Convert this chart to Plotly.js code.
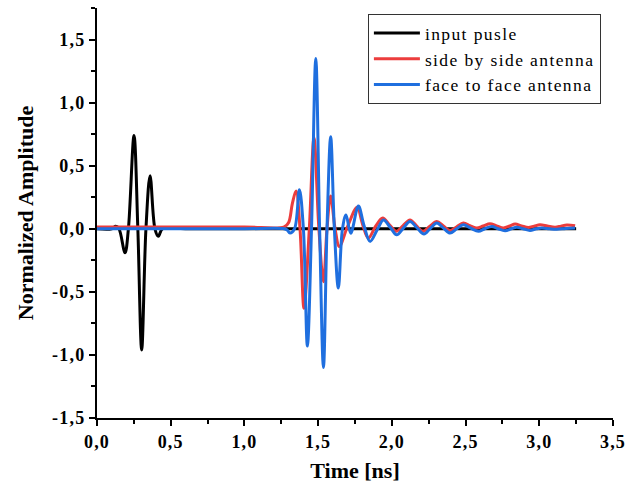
<!DOCTYPE html>
<html>
<head>
<meta charset="utf-8">
<script src="https://cdn.plot.ly/plotly-3.0.1.min.js"></script>
<style>
html,body{margin:0;padding:0;background:#fff;}
#chart{width:628px;height:486px;}
.legendtext{letter-spacing:1.4px;}
.xtick text,.ytick text{letter-spacing:1.2px;}
</style>
</head>
<body>
<div id="chart"></div>
<script>
// Input pulse
const tInput = [0, 0.1, 0.127, 0.149, 0.19, 0.213, 0.251, 0.277, 0.303, 0.332, 0.36, 0.393, 0.416, 0.445, 0.6, 1.5, 3.25];
const vInput = [0, 0, 0.02, 0, -0.19, 0, 0.74, 0, -0.96, 0, 0.42, 0, -0.06, 0, 0, 0, 0];

// Side by side antenna
const tSide = [0, 0.5, 1.0, 1.27, 1.30, 1.325, 1.35, 1.377, 1.404, 1.44, 1.472, 1.505, 1.536, 1.56, 1.585, 1.615, 1.644, 1.70, 1.765, 1.80, 1.84, 1.89, 1.938, 1.985, 2.029, 2.076, 2.123, 2.166, 2.21, 2.258, 2.305, 2.35, 2.395, 2.44, 2.485, 2.53, 2.576, 2.62, 2.666, 2.71, 2.757, 2.80, 2.836, 2.88, 2.926, 2.965, 3.005, 3.055, 3.107, 3.147, 3.187, 3.243];
const vSide = [0.015, 0.015, 0.015, 0.015, 0.05, 0.2, 0.30, 0, -0.63, 0, 0.72, 0, -0.42, 0, 0.26, 0, -0.14, 0.02, 0.17, 0.04, -0.074, 0.02, 0.085, 0.03, -0.02, 0.025, 0.07, 0.025, -0.02, 0.02, 0.058, 0.022, -0.013, 0.016, 0.045, 0.025, 0.006, 0.023, 0.04, 0.023, 0.006, 0.022, 0.037, 0.023, 0.01, 0.021, 0.032, 0.022, 0.013, 0.021, 0.03, 0.024];

// Face to face antenna
const tFace = [0, 0.5, 1.0, 1.27, 1.29, 1.309, 1.34, 1.373, 1.40, 1.427, 1.455, 1.484, 1.51, 1.536, 1.56, 1.585, 1.61, 1.637, 1.665, 1.689, 1.721, 1.773, 1.81, 1.852, 1.90, 1.943, 1.99, 2.033, 2.078, 2.123, 2.17, 2.218, 2.26, 2.305, 2.35, 2.395, 2.44, 2.485, 2.535, 2.587, 2.63, 2.678, 2.72, 2.768, 2.81, 2.847, 2.89, 2.937, 2.98, 3.017, 3.07, 3.119, 3.18, 3.243];
const vFace = [0, 0, 0, 0, -0.01, -0.034, 0, 0.31, 0, -0.93, 0, 1.35, 0, -1.10, 0, 0.73, 0, -0.47, 0, 0.11, -0.035, 0.18, 0.03, -0.10, -0.01, 0.07, 0.01, -0.048, 0.005, 0.058, 0.008, -0.042, 0.002, 0.045, 0.005, -0.034, 0, 0.032, 0.005, -0.02, 0, 0.018, 0, -0.016, 0, 0.013, 0, -0.013, 0, 0.006, 0, -0.003, 0.003, 0.006];

const seriesNames = ["input pusle", "side by side antenna", "face to face antenna"];
const xTickVals = [0, 0.5, 1.0, 1.5, 2.0, 2.5, 3.0, 3.5];
const xTickText = ["0,0", "0,5", "1,0", "1,5", "2,0", "2,5", "3,0", "3,5"];
const yTickVals = [-1.5, -1.0, -0.5, 0, 0.5, 1.0, 1.5];
const yTickText = ["-1,5", "-1,0", "-0,5", "0,0", "0,5", "1,0", "1,5"];

const FONT = "Liberation Serif, Times New Roman, serif";

const traces = [
  {x: tInput, y: vInput, name: seriesNames[0], mode: "lines", line: {color: "#000000", width: 3, shape: "spline", smoothing: 1}},
  {x: tSide, y: vSide, name: seriesNames[1], mode: "lines", line: {color: "#ec3d3d", width: 3, shape: "spline", smoothing: 1}},
  {x: tFace, y: vFace, name: seriesNames[2], mode: "lines", line: {color: "#1f6fdf", width: 3, shape: "spline", smoothing: 1}}
];

const axisCommon = {
  showgrid: false, zeroline: false, showline: true, linecolor: "#000", linewidth: 2,
  ticks: "outside", ticklen: 6, tickwidth: 2, tickcolor: "#000",
  tickfont: {family: FONT, size: 18, color: "#000", weight: "bold"},
  mirror: false, tickmode: "array"
};

const layout = {
  width: 628, height: 486,
  margin: {l: 97, r: 15, t: 8, b: 68},
  paper_bgcolor: "#fff", plot_bgcolor: "#fff",
  showlegend: true,
  legend: {
    x: 0.525, y: 0.985, xanchor: "left", yanchor: "top",
    bgcolor: "#fff", bordercolor: "#333", borderwidth: 1,
    font: {family: FONT, size: 17.5, color: "#000"},
    itemwidth: 46, tracegroupgap: 0
  },
  xaxis: Object.assign({}, axisCommon, {
    range: [0, 3.5], tickvals: xTickVals, ticktext: xTickText,
    minor: {dtick: 0.25, tick0: 0, ticks: "outside", ticklen: 4, tickwidth: 2, tickcolor: "#000"},
    title: {text: "Time [ns]", font: {family: FONT, size: 22, color: "#000", weight: "bold"}, standoff: 12}
  }),
  yaxis: Object.assign({}, axisCommon, {
    range: [-1.5, 1.75], tickvals: yTickVals, ticktext: yTickText,
    minor: {dtick: 0.25, tick0: 0, ticks: "outside", ticklen: 4, tickwidth: 2, tickcolor: "#000"},
    title: {text: "Normalized Amplitude", font: {family: FONT, size: 22, color: "#000", weight: "bold"}, standoff: 12}
  })
};

Plotly.newPlot("chart", traces, layout, {staticPlot: true, displayModeBar: false});
</script>
</body>
</html>
